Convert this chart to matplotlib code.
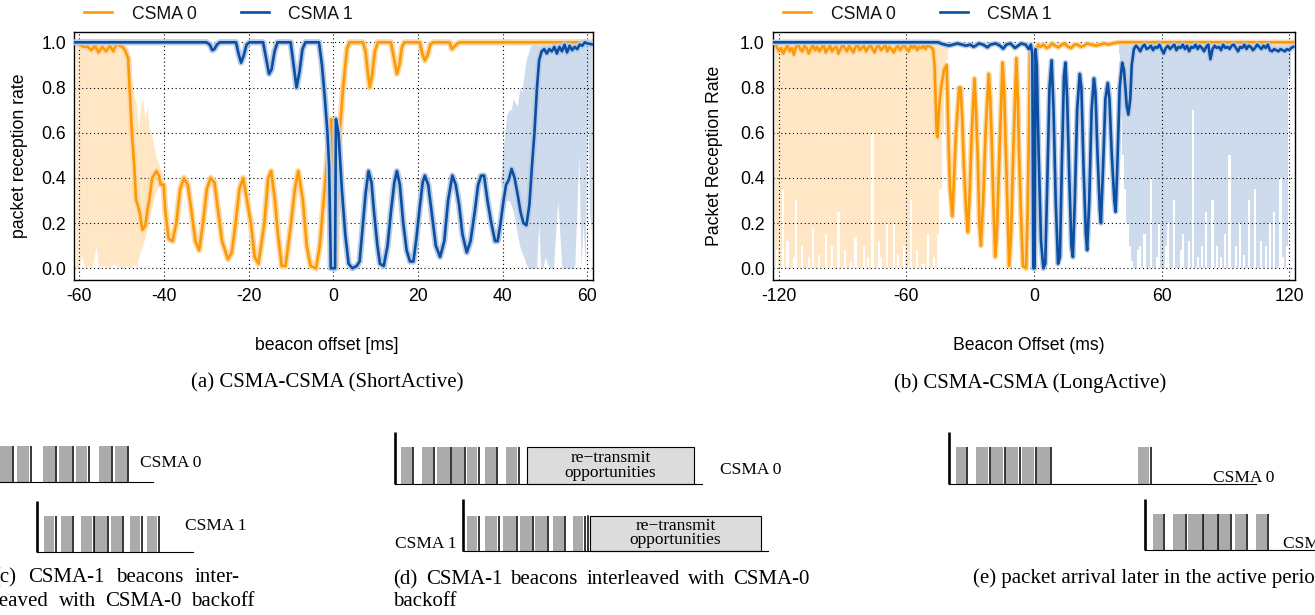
import numpy as np
import matplotlib
matplotlib.use("Agg")
import matplotlib.pyplot as plt
from matplotlib.patches import Rectangle

SANS = ["Liberation Sans", "DejaVu Sans"]
SERIF = ["Liberation Serif", "DejaVu Serif"]

ORANGE = "#fb9a06"
BLUE = "#0b4ea2"
ORANGE_FILL = "#ffe7c6"
BLUE_FILL = "#cddbed"
ORANGE_HALO = "#fdd9a8"
BLUE_HALO = "#b9cce6"

# ---------------- Panel (a): ShortActive ----------------
a_xticks = [-60, -40, -20, 0, 20, 40, 60]
a_csma0_x = [-61.2, -60, -59, -58, -57.2, -56.3, -55.5, -54.6, -53.7, -52.8, -52, -51.2, -50.5, -49.8,
             -49.1, -48.5, -48, -47.6, -47.1, -46.6, -46.2, -45.7, -45.1, -44.4, -43.9, -43.5, -42.8,
             -41.8, -41.2, -40.8, -40.1, -39.7, -38.9, -38, -37.1, -36.2, -35.3, -34.4, -33.5, -32.6,
             -31.7, -30.8, -29.9, -29, -28.1, -27.2, -26.3, -24.9, -24, -23.1, -22.2, -21.3, -20.4,
             -19.5, -18.6, -17.7, -16.3, -15.4, -14.7, -13.8, -13.1, -12.2, -11.3, -10, -9.1, -8.3,
             -7.2, -6.3, -5.4, -4.1, -3.2, -2.3, -1.4, -0.9, -0.5, -0.3, 0.6, 1.0, 1.5, 2.3, 3.2, 3.8,
             7.0, 7.6, 8.1, 8.6, 9.2, 9.8, 10.5, 13.6, 14.3, 15.0, 15.6, 16.2, 16.8, 20.4, 21.0, 21.6,
             22.2, 22.9, 23.6, 27.4, 28.0, 28.5, 29.3, 30.0, 61.4]
a_csma0_y = [1.0, 0.99, 0.98, 0.98, 0.965, 0.985, 0.955, 0.98, 0.96, 0.985, 0.96, 0.995, 0.985, 0.98,
             0.96, 0.93, 0.75, 0.6, 0.47, 0.3, 0.28, 0.24, 0.17, 0.19, 0.26, 0.3, 0.4,
             0.43, 0.41, 0.37, 0.37, 0.25, 0.13, 0.12, 0.2, 0.35, 0.40, 0.37, 0.25, 0.12,
             0.08, 0.2, 0.35, 0.40, 0.38, 0.25, 0.12, 0.04, 0.07, 0.2, 0.35, 0.40, 0.3,
             0.2, 0.05, 0.02, 0.2, 0.4, 0.43, 0.3, 0.15, 0.01, 0.01, 0.2, 0.35, 0.43,
             0.3, 0.1, 0.01, 0.0, 0.1, 0.3, 0.5, 0.6, 0.66, 0.0, 0.0, 0.45, 0.6, 0.8, 0.97, 1.0,
             1.0, 0.96, 0.87, 0.80, 0.86, 0.96, 1.0, 1.0, 0.93, 0.86, 0.9, 0.98, 1.0, 1.0, 0.95, 0.92,
             0.94, 0.99, 1.0, 1.0, 0.97, 0.98, 0.995, 1.0, 1.0]
a_csma1_x = [-61.2, -30, -29.2, -28.6, -28.1, -27.5, -26.8, -23, -22.4, -21.8, -21.2, -20.5, -19.8,
             -16.6, -15.9, -15.2, -14.6, -13.9, -13.2, -10.1, -9.4, -8.7, -8.0, -7.3, -6.6, -3.4,
             -2.7, -2.0, -1.4, -1.0, -0.6, 0.4, 0.6, 1.2, 2.0, 2.8, 3.6, 4.5, 5.5, 6.2, 7.0, 7.6,
             8.3, 9.0, 9.6, 10.4, 11.0, 11.9, 12.8, 13.6, 14.4, 15.0, 15.7, 16.5, 17.3, 18.1, 18.9,
             19.6, 20.4, 21.1, 21.6, 22.4, 23.2, 24.2, 25.2, 26.2, 27.1, 28.1, 28.9, 29.7, 30.5,
             31.5, 32.4, 33.4, 34.2, 34.9, 35.6, 36.4, 37.3, 38.2, 38.8, 39.5, 40.2, 40.8, 41.4,
             42.1, 42.8, 43.5, 44.2, 44.9, 45.6, 46.3, 46.9, 47.5, 48.1, 48.6, 49.2, 49.8, 50.4,
             51.0, 51.6, 52.2, 52.8, 53.4, 54.0, 54.6, 55.2, 55.8, 56.4, 57.0, 57.6, 58.2, 58.8,
             59.4, 60.0, 61.4]
a_csma1_y = [1.0, 1.0, 0.99, 0.965, 0.97, 0.99, 1.0, 1.0, 0.95, 0.91, 0.94, 0.99, 1.0,
             1.0, 0.93, 0.86, 0.88, 0.96, 1.0, 1.0, 0.9, 0.80, 0.87, 0.97, 1.0, 1.0,
             0.9, 0.75, 0.6, 0.45, 0.0, 0.0, 0.66, 0.6, 0.35, 0.15, 0.02, 0.0, 0.01, 0.03, 0.2, 0.33,
             0.43, 0.38, 0.25, 0.1, 0.02, 0.01, 0.1, 0.25, 0.38, 0.43, 0.37, 0.2, 0.08, 0.03, 0.03,
             0.13, 0.27, 0.38, 0.41, 0.37, 0.25, 0.1, 0.05, 0.12, 0.3, 0.41, 0.37, 0.28, 0.15,
             0.07, 0.12, 0.25, 0.37, 0.41, 0.41, 0.3, 0.2, 0.12, 0.12, 0.2, 0.3, 0.37, 0.39,
             0.44, 0.4, 0.33, 0.25, 0.2, 0.19, 0.28, 0.45, 0.6, 0.8, 0.92, 0.96, 0.97, 0.95,
             0.97, 0.96, 0.98, 0.95, 0.98, 0.96, 0.99, 0.955, 0.985, 0.965, 0.98, 0.97, 0.99, 0.985,
             1.0, 0.995, 0.99]
a_band0_x = [-60.8, -60, -59.5, -59, -58.5, -58, -57, -56, -55.5, -55, -54, -53, -52, -51, -50, -49,
             -48, -47, -46.5, -46, -45.5, -45, -44.5, -44, -43.5, -43, -42.5, -42, -41, -40]
a_band0_lo = [0.0, 0.0, 0.06, 0.02, 0.0, 0.01, 0.0, 0.1, 0.0, 0.01, 0.01, 0.0, 0.02, 0.01, 0.0, 0.01,
              0.0, 0.02, 0.0, 0.05, 0.08, 0.1, 0.14, 0.17, 0.22, 0.25, 0.3, 0.33, 0.38, 0.37]
a_band0_hi = [1.0, 1.0, 1.0, 1.0, 1.0, 1.0, 1.0, 1.0, 1.0, 1.0, 1.0, 1.0, 1.0, 1.0, 1.0, 1.0,
              0.85, 0.76, 0.72, 0.6, 0.73, 0.75, 0.66, 0.72, 0.62, 0.6, 0.55, 0.5, 0.45, 0.4]
a_band1_x = [39.5, 40, 40.5, 41, 41.5, 42, 42.5, 43, 43.5, 44, 44.5, 45, 45.5, 46, 46.5, 47, 48, 48.5,
             49, 49.5, 50, 51, 52, 53, 54, 55, 56, 57, 58, 58.5, 59, 59.5, 60, 60.5, 61]
a_band1_lo = [0.38, 0.33, 0.3, 0.3, 0.3, 0.28, 0.25, 0.2, 0.15, 0.1, 0.07, 0.05, 0.02, 0.0, 0.0, 0.0,
              0.0, 0.2, 0.0, 0.0, 0.05, 0.0, 0.0, 0.3, 0.0, 0.0, 0.0, 0.0, 0.5, 0.0, 0.2, 0.0, 0.8,
              0.25, 0.15]
a_band1_hi = [0.4, 0.5, 0.6, 0.68, 0.7, 0.7, 0.75, 0.73, 0.72, 0.8, 0.78, 0.85, 0.92, 0.95, 0.98, 1.0,
              1.0, 1.0, 1.0, 1.0, 1.0, 1.0, 1.0, 1.0, 1.0, 1.0, 1.0, 1.0, 1.0, 1.0, 1.0, 1.0, 1.0,
              1.0, 1.0]

# ---------------- Panel (b): LongActive ----------------
b_xticks = [-120, -60, 0, 60, 120]
b_csma0_noise_x = list(range(-122, -47))
b_csma0_noise_y = [0.99, 0.98, 0.96, 0.975, 0.95, 0.97, 0.985, 0.96, 0.975, 0.945,
                   0.98, 0.99, 0.97, 0.96, 0.985, 0.975, 0.95, 0.97, 0.99, 0.965,
                   0.98, 0.96, 0.975, 0.99, 0.955, 0.97, 0.985, 0.96, 0.975, 0.98,
                   0.95, 0.97, 0.99, 0.975, 0.96, 0.985, 0.97, 0.955, 0.98, 0.99,
                   0.965, 0.975, 0.985, 0.96, 0.975, 0.99, 0.97, 0.955, 0.98, 0.985,
                   0.965, 0.975, 0.99, 0.96, 0.98, 0.97, 0.955, 0.975, 0.985, 0.965,
                   0.98, 0.99, 0.97, 0.96, 0.985, 0.975, 0.99, 0.965, 0.98, 0.975,
                   0.985, 0.97, 0.99, 0.98, 0.975]
b_csma0_rest_x = [-47.5, -46.8, -46.3, -45.8, -45.4, -44.6, -43.7, -42.3, -41.1, -40.8, -40.2, -39.5,
                  -38.4, -37.6, -36.7, -35.2, -34.5, -33.7, -33, -31.9, -31.1, -30.2, -29.3, -28,
                  -27.3, -26.5, -25.7, -25, -23.9, -22.8, -21.3, -20.6, -20, -19, -18.2, -17.3, -16.3,
                  -14.8, -14.1, -13.5, -12.6, -11.7, -10.8, -9.8, -8.3, -7.6, -7, -6, -5.2, -3.7, -3,
                  -2.4, -1.9, -1.0, -0.5, 0.4, 1.3, 2, 3, 4.5, 6, 7, 8.5, 10, 11.5, 13, 14.5, 16, 17.5,
                  19, 20.5, 22, 23.5, 25, 27, 29, 31, 33, 35, 37, 40, 122.8]
b_csma0_rest_y = [0.97, 0.9, 0.75, 0.6, 0.58, 0.72, 0.8, 0.88, 0.9, 0.8, 0.55, 0.35,
                  0.23, 0.4, 0.6, 0.8, 0.8, 0.65, 0.45, 0.25, 0.16, 0.35, 0.6, 0.84,
                  0.7, 0.5, 0.2, 0.1, 0.3, 0.6, 0.86, 0.75, 0.6, 0.25, 0.05, 0.2, 0.5,
                  0.91, 0.8, 0.6, 0.3, 0.01, 0.15, 0.5, 0.93, 0.75, 0.5, 0.2, 0.01, 0.0, 0.25,
                  0.6, 0.97, 0.98, 0.97, 0.97, 0.97, 0.99, 0.98, 0.99, 0.975, 0.98, 0.995, 0.985,
                  0.978, 0.99, 0.995, 0.98, 0.975, 0.99, 0.99, 0.98, 0.985, 0.995, 0.99, 0.985,
                  0.99, 0.995, 0.99, 0.995, 1.0, 1.0]
b_csma1_rest_x = [-122.8, -45, -44, -42, -40, -38, -36, -34, -32, -30, -28.5, -27.4, -26, -24, -21.9,
                  -20.5, -18, -16, -14.5, -13, -11, -9, -7.5, -6, -4, -2.4, -1.5, -0.8, -0.3, 0.3,
                  0.7, 1.3, 2.2, 3.3, 4.4, 5.3, 6.3, 7.3, 8.3, 9.2, 10.2, 11.3, 12.2, 13.2, 14.1,
                  14.8, 15.6, 16.6, 17.6, 18.3, 19.2, 20.3, 21.5, 22.3, 23.3, 24.4, 25, 26, 27.1,
                  28.2, 28.9, 29.9, 31, 31.5, 32.5, 33.6, 34.7, 35.5, 36.6, 37.8, 38.4, 39.2, 40.3,
                  41.5, 42.3, 43, 43.6, 44.4, 45.3, 46]
b_csma1_rest_y = [1.0, 1.0, 0.995, 0.99, 0.985, 0.99, 0.995, 0.99, 0.985, 0.99, 0.98, 0.985, 0.995,
                  0.99, 0.978, 0.99, 0.995, 0.985, 0.972, 0.99, 0.995, 0.975, 0.985, 0.995, 0.99,
                  0.97, 0.99, 0.95, 0.0, 0.0, 0.97, 0.9, 0.5, 0.12, 0.0, 0.02, 0.4, 0.8, 0.92, 0.7,
                  0.3, 0.02, 0.05, 0.5, 0.85, 0.91, 0.75, 0.4, 0.1, 0.05, 0.3, 0.7, 0.86, 0.8, 0.45,
                  0.15, 0.08, 0.3, 0.7, 0.84, 0.78, 0.5, 0.25, 0.2, 0.45, 0.75, 0.82, 0.75, 0.5,
                  0.3, 0.25, 0.45, 0.8, 0.91, 0.88, 0.8, 0.72, 0.68, 0.75, 0.9]
b_csma1_noise_x = list(range(47, 123))
b_csma1_noise_y = [0.97, 0.985, 0.975, 0.96, 0.98, 0.99, 0.97, 0.975, 0.985, 0.965,
                   0.98, 0.975, 0.99, 0.97, 0.95, 0.975, 0.985, 0.97, 0.98, 0.99,
                   0.965, 0.98, 0.975, 0.99, 0.97, 0.985, 0.96, 0.98, 0.975, 0.99,
                   0.97, 0.985, 0.975, 0.96, 0.98, 0.99, 0.925, 0.97, 0.985, 0.975,
                   0.98, 0.965, 0.99, 0.975, 0.98, 0.97, 0.985, 0.99, 0.975, 0.96,
                   0.98, 0.975, 0.99, 0.97, 0.985, 0.98, 0.965, 0.975, 0.99, 0.98,
                   0.97, 0.985, 0.975, 0.99, 0.965, 0.96, 0.97, 0.965, 0.96, 0.97,
                   0.965, 0.96, 0.97, 0.965, 0.975, 0.98]
b_band0_x = list(range(-122, -39))
b_band0_lo = [0.0, 0.08, 0.0, 0.0, 0.35, 0.0, 0.12, 0.0, 0.0, 0.05,
              0.3, 0.0, 0.0, 0.1, 0.0, 0.0, 0.05, 0.0, 0.18, 0.0,
              0.0, 0.06, 0.0, 0.0, 0.15, 0.0, 0.0, 0.1, 0.0, 0.0,
              0.25, 0.0, 0.0, 0.08, 0.0, 0.0, 0.03, 0.0, 0.14, 0.0,
              0.0, 0.0, 0.1, 0.0, 0.05, 0.0, 0.6, 0.0, 0.0, 0.12,
              0.05, 0.0, 0.0, 0.2, 0.0, 0.0, 0.2, 0.0, 0.06, 0.0,
              0.0, 0.1, 0.0, 0.0, 0.3, 0.0, 0.0, 0.08, 0.0, 0.0,
              0.02, 0.0, 0.15, 0.0, 0.0, 0.05, 0.0, 0.15, 0.35, 0.6,
              0.8, 0.92, 1.0]
b_band1_x = list(range(40, 122))
b_band1_lo = [0.95, 0.7, 0.5, 0.35, 0.2, 0.1, 0.03, 0.0, 0.0, 0.08,
              0.1, 0.0, 0.15, 0.0, 0.0, 0.4, 0.0, 0.0, 0.05, 0.2,
              0.0, 0.0, 0.1, 0.2, 0.0, 0.0, 0.3, 0.0, 0.0, 0.08,
              0.15, 0.0, 0.0, 0.12, 0.0, 0.7, 0.0, 0.05, 0.0, 0.1,
              0.0, 0.25, 0.0, 0.0, 0.3, 0.0, 0.1, 0.0, 0.05, 0.0,
              0.15, 0.0, 0.5, 0.0, 0.0, 0.1, 0.0, 0.2, 0.0, 0.06,
              0.0, 0.3, 0.0, 0.0, 0.35, 0.0, 0.0, 0.12, 0.0, 0.1,
              0.0, 0.2, 0.0, 0.25, 0.0, 0.0, 0.4, 0.05, 0.0, 0.1,
              0.85, 0.85]

series_labels = ["CSMA 0", "CSMA 1"]
ylabels = ["packet reception rate", "Packet Reception Rate"]
xlabels = ["beacon offset [ms]", "Beacon Offset (ms)"]
captions = ["(a) CSMA-CSMA (ShortActive)", "(b) CSMA-CSMA (LongActive)"]

W, H = 1315, 615
fig = plt.figure(figsize=(W / 100, H / 100), dpi=100)


def style_axes(ax, xlim, xticks, ylabel, xlabel, ylab_x, xlab_x):
    ax.set_xlim(*xlim)
    ax.set_ylim(-0.052, 1.047)
    ax.set_xticks(xticks)
    ax.set_xticklabels([str(t) for t in xticks])
    ax.set_yticks([0.0, 0.2, 0.4, 0.6, 0.8, 1.0])
    ax.set_yticklabels(["%.1f" % v for v in [0.0, 0.2, 0.4, 0.6, 0.8, 1.0]])
    ax.tick_params(length=0, pad=6, labelsize=12.7)
    for lab in ax.get_xticklabels() + ax.get_yticklabels():
        lab.set_family(SANS)
    ax.grid(True, color="black", linestyle=(0, (1, 2.5)), linewidth=0.8)
    for s in ax.spines.values():
        s.set_linewidth(1.0)
    ax.set_ylabel(ylabel, family=SANS, fontsize=12.7)
    ax.yaxis.set_label_coords(ylab_x, 0.5)
    ax.yaxis.label.set_va("center")
    ax.set_xlabel(xlabel, family=SANS, fontsize=12.7)
    ax.xaxis.label.set_va("center")
    ax.xaxis.set_label_coords(xlab_x, -0.262)
    leg = ax.legend(ncol=2, loc="center left", bbox_to_anchor=(0.019, 1.071), frameon=False,
                    handlelength=1.6, handletextpad=1.1, columnspacing=2.5, borderpad=0,
                    borderaxespad=0, prop={"family": SANS, "size": 12.7})
    for t in leg.get_texts():
        t.set_color("#111111")


# -------- panel (a)
axa = fig.add_axes([74.3 / W, (H - 280) / H, 519 / W, 248.3 / H])
axa.fill_between(a_band0_x, a_band0_lo, a_band0_hi, color=ORANGE_FILL, lw=0, zorder=1)
axa.fill_between(a_band1_x, a_band1_lo, a_band1_hi, color=BLUE_FILL, lw=0, zorder=1)
axa.plot(a_csma0_x, a_csma0_y, color=ORANGE_HALO, lw=4.5, zorder=2, solid_joinstyle="round")
axa.plot(a_csma0_x, a_csma0_y, color=ORANGE, lw=1.9, zorder=3, label=series_labels[0])
axa.plot(a_csma1_x, a_csma1_y, color=BLUE_HALO, lw=4.5, zorder=4, solid_joinstyle="round")
axa.plot(a_csma1_x, a_csma1_y, color=BLUE, lw=1.9, zorder=5, label=series_labels[1])
style_axes(axa, (-61.2, 61.4), a_xticks, ylabels[0], xlabels[0], -0.105, 0.487)

# -------- panel (b)
axb = fig.add_axes([773 / W, (H - 280) / H, 522 / W, 248.3 / H])
b0x = b_csma0_noise_x + b_csma0_rest_x
b0y = b_csma0_noise_y + b_csma0_rest_y
b1x = b_csma1_rest_x + b_csma1_noise_x
b1y = b_csma1_rest_y + b_csma1_noise_y
axb.fill_between(b_band0_x, b_band0_lo, 1.0, step="mid", color=ORANGE_FILL, lw=0, zorder=1)
axb.fill_between(b_band1_x, b_band1_lo, 1.0, step="mid", color=BLUE_FILL, lw=0, zorder=1)
axb.plot(b0x, b0y, color=ORANGE_HALO, lw=4.0, zorder=2)
axb.plot(b0x, b0y, color=ORANGE, lw=1.9, zorder=3, label=series_labels[0])
axb.plot(b1x, b1y, color=BLUE_HALO, lw=4.0, zorder=4)
axb.plot(b1x, b1y, color=BLUE, lw=1.9, zorder=5, label=series_labels[1])
style_axes(axb, (-122.8, 122.8), b_xticks, ylabels[1], xlabels[1], -0.112, 0.49)

# -------- overlay for captions and schematic diagrams (pixel coordinates)
ov = fig.add_axes([0, 0, 1, 1], zorder=-1)
ov.set_xlim(0, W)
ov.set_ylim(H, 0)
ov.axis("off")

CAP = dict(family=SERIF, fontsize=15, va="center", color="black")
LAB = dict(family=SERIF, fontsize=12.5, va="baseline", color="black")

ov.text(327, 383, captions[0], ha="center", **CAP)
ov.text(1030, 383, captions[1], ha="center", **CAP)

GRAY = "#ababab"
BOXGRAY = "#dcdcdc"


def row(start, end, base, top, bars, tall_top=None):
    if tall_top is not None:
        ov.plot([start, start], [tall_top, base], color="black", lw=1.9, solid_capstyle="butt")
    ov.plot([start, end], [base, base], color="black", lw=0.8)
    for x0, x1 in bars:
        ov.add_patch(Rectangle((x0, top), x1 - x0, base - top, facecolor=GRAY, edgecolor="none"))
        ov.plot([x1 + 1.4, x1 + 1.4], [top, base], color="black", lw=1.1, solid_capstyle="butt")


def box(x0, x1, top, base, text):
    ov.add_patch(Rectangle((x0, top), x1 - x0, base - top, facecolor=BOXGRAY, edgecolor="black", lw=0.8))
    ov.text((x0 + x1) / 2, (top + base) / 2, text, ha="center", family=SERIF, fontsize=12.5,
            va="center", linespacing=0.85)


# (c)
row(-5, 152.7, 482.3, 445.7, [(-4, 11.7), (17.3, 29.3), (43.3, 55), (59.3, 71.7), (76, 87.3),
                               (99.3, 111), (115, 126.7)])
ov.text(140, 466.7, "CSMA 0", ha="left", **LAB)
row(37.3, 193.3, 551.7, 515.7, [(44.3, 54.5), (61, 71.7), (81, 92.5), (94, 107), (111, 122),
                                 (130, 140.5), (146.7, 157.5)], tall_top=501)
ov.text(185, 530, "CSMA 1", ha="left", **LAB)

# (d)
row(395, 701.7, 484.3, 446.7, [(401, 411.7), (421.7, 432.7), (436.7, 450), (451.7, 464),
                               (467.3, 477.3), (485, 496), (506, 517.3)], tall_top=432.3)
box(527.3, 693.7, 446.7, 484.3, "re\u2212transmit\nopportunities")
ov.text(720, 474.3, "CSMA 0", ha="left", **LAB)
row(463.3, 768, 551, 515.7, [(467.3, 477.3), (485, 497.3), (503.3, 516), (520, 531.7),
                             (535, 546.7), (553.3, 564), (573.3, 583.3)], tall_top=499)
ov.plot([587.8, 587.8], [515.7, 551], color="black", lw=1.1)
box(590, 761, 515.7, 551, "re\u2212transmit\nopportunities")
ov.text(456.7, 547.7, "CSMA 1", ha="right", **LAB)

# (e)
row(949.3, 1256, 484.3, 446.7, [(956, 966), (976, 988.3), (990.7, 1003.3), (1006, 1018.3),
                                (1021.7, 1034.3), (1037.3, 1050), (1138.3, 1149.3)], tall_top=432.3)
ov.text(1213, 481.5, "CSMA 0", ha="left", **LAB)
row(1145, 1330, 550, 514, [(1153.3, 1162.7), (1173.3, 1185), (1188.3, 1201.7), (1203.3, 1216.7),
                           (1218.3, 1230), (1235, 1246), (1256, 1266.7)], tall_top=499)
ov.text(1283, 547.7, "CSMA 1", ha="left", **LAB)

# justified caption lines
fig.canvas.draw()
renderer = fig.canvas.get_renderer()


def justify(words, x0, x1, y):
    texts = [ov.text(0, y, w, ha="left", **CAP) for w in words]
    widths = [t.get_window_extent(renderer=renderer).width for t in texts]
    gap = (x1 - x0 - sum(widths)) / (len(words) - 1)
    x = x0
    for t, w in zip(texts, widths):
        t.set_x(x)
        x += w + gap


justify(["(c)", "CSMA-1", "beacons", "inter-"], -7, 240, 578)
justify(["leaved", "with", "CSMA-0", "backoff"], -6, 255, 602)
justify(["(d)", "CSMA-1", "beacons", "interleaved", "with", "CSMA-0"], 393, 810, 580)
ov.text(393, 602, "backoff", ha="left", **CAP)
ov.text(973, 578, "(e) packet arrival later in the active period", ha="left", **CAP)

fig.savefig("out.png", dpi=100)
